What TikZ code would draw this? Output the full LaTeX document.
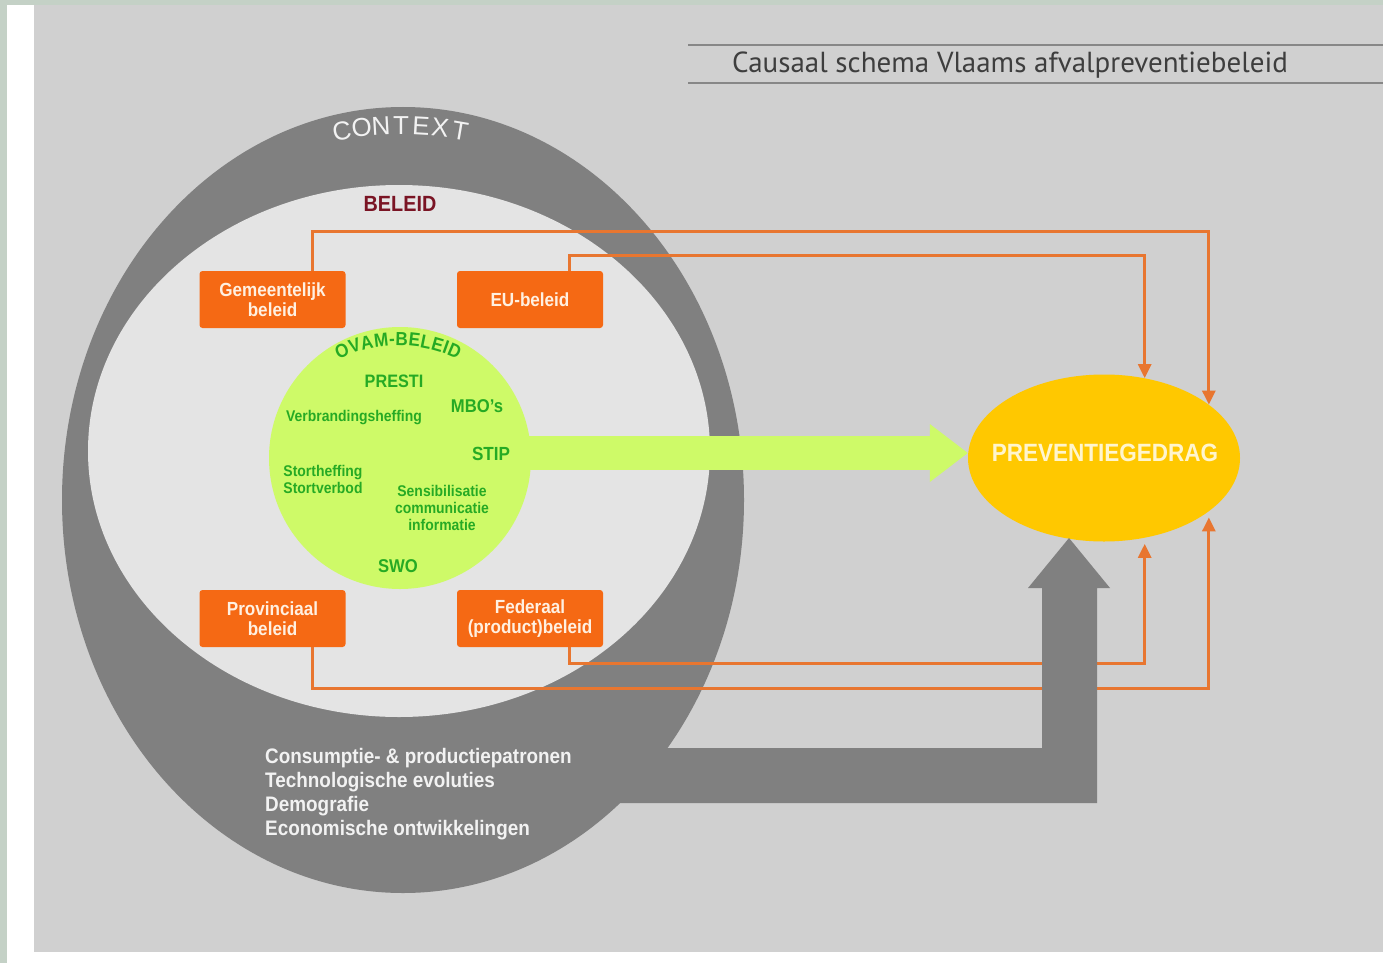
\documentclass[tikz,border=0pt]{standalone}
\usepackage{fontspec}
\usetikzlibrary{shapes.geometric,arrows.meta}
\newfontfamily\cnd[FakeStretch=0.9]{Liberation Sans}
\newfontfamily\ttlf{PT Sans}
\newfontfamily\ctxf{Liberation Sans}
\definecolor{framegreen}{RGB}{196,209,198}
\definecolor{panel}{RGB}{208,208,208}
\definecolor{ctxgrey}{RGB}{128,128,128}
\definecolor{innergrey}{RGB}{228,228,228}
\definecolor{limegr}{RGB}{206,250,104}
\definecolor{gtxt}{RGB}{38,170,36}
\definecolor{boxorange}{RGB}{245,105,20}
\definecolor{boxtext}{RGB}{255,240,225}
\definecolor{lineorange}{RGB}{232,118,48}
\definecolor{peyellow}{RGB}{255,200,0}
\definecolor{petext}{RGB}{255,245,205}
\definecolor{titlegrey}{RGB}{62,62,62}
\definecolor{titleline}{RGB}{135,135,135}
\definecolor{darkred}{RGB}{122,20,36}
\definecolor{ctxtext}{RGB}{242,242,242}
\begin{document}
\begin{tikzpicture}[x=1pt,y=-1pt,
  obox/.style={rectangle, rounded corners=3pt, fill=boxorange, minimum width=146pt, minimum height=57pt, inner sep=0pt, text=boxtext, align=center, font=\cnd\bfseries\fontsize{19}{20.5}\selectfont},
  oline/.style={draw=lineorange, line width=3pt, -{Triangle[length=14pt,width=13pt]}},
  gtext/.style={text=gtxt, inner sep=0pt, align=center},
  letter/.style={inner sep=0pt, text height=0.72em, text depth=0pt},
]
\useasboundingbox (0,0) rectangle (1383,963);
% frame and panel
\fill[framegreen] (0,0) rectangle (1383,963);
\fill[white] (7,5) rectangle (1383,963);
\fill[panel] (34,5) rectangle (1383,952);
% title
\draw[titleline, line width=1.5pt] (688,45) -- (1383,45) (688,83) -- (1383,83);
\node[anchor=west, text=titlegrey, font=\ttlf\fontsize{29}{32}\selectfont, inner sep=0pt] (title) at (732,65) {Causaal schema Vlaams afvalpreventiebeleid};
% context and beleid shapes
\node[ellipse, fill=ctxgrey, inner sep=0pt, minimum width=682pt, minimum height=786pt] (ctx) at (403,500) {};
\node[ellipse, fill=innergrey, inner sep=0pt, minimum width=622pt, minimum height=532pt] (bel) at (399,451) {};
% preventiegedrag
\node[ellipse, fill=peyellow, inner sep=0pt, minimum width=272pt, minimum height=167pt] (pe) at (1104,458) {};
% OVAM circle and green arrow
\node[circle, fill=limegr, inner sep=0pt, minimum size=262pt] (ovam) at (400,458) {};
\draw[limegr, line width=34pt, -{Triangle[length=38pt,width=58pt,line width=0pt]}] ([yshift=5pt,xshift=-6pt]ovam.east) -- ([yshift=5pt]pe.west);
% orange boxes
\node[obox] (gem) at (272.5,299.5) {Gemeentelijk\\beleid};
\node[obox] (eu) at (530,299.5) {EU-beleid};
\node[obox] (prov) at (272.5,618.5) {Provinciaal\\beleid};
\node[obox] (fed) at (530,618.5) {Federaal\\(product)beleid};
% orange connectors
\draw[oline] ([xshift=39.5pt]gem.north) -- ++(0,-39) -| (pe.27);
\draw[oline] ([xshift=39pt]eu.north) -- ++(0,-15) -| (pe.63);
\draw[oline, shorten >=6pt] ([xshift=39pt]fed.south) -- ++(0,16) -| (pe.-63);
\draw[oline, shorten >=6pt] ([xshift=39.5pt]prov.south) -- ++(0,41) -| (pe.-27);
% grey context arrow
\fill[ctxgrey] (600,748) -- (1042,748) -- (1042,588) -- (1028,588) -- (1069,538) -- (1110,588) -- (1097,588) -- (1097,803) -- (600,803) -- cycle;
% texts
\node[text=petext, inner sep=0pt, font=\cnd\bfseries\fontsize{25}{28}\selectfont] (pet) at (1105,453) {PREVENTIEGEDRAG};
\node[text=darkred, inner sep=0pt, font=\cnd\bfseries\fontsize{22}{24}\selectfont] (beleidt) at (400,204) {BELEID};
\foreach \c/\a [count=\i] in {C/99.8,O/96.5,N/93.3,T/90,E/86.7,X/83.5,T/80.2}
  \node[letter, text=ctxtext, font=\ctxf\fontsize{26}{28}\selectfont, rotate=\a-90] (ctxl\i) at ({401+342*cos(\a)},{473-342*sin(\a)}) {\c};
\foreach \c/\a [count=\i] in {O/-23.1,V/-17.7,A/-12.6,M/-6.8,-/-2.4,B/1.5,E/6.6,L/11.3,E/16.1,I/19.6,D/23.3}
  \node[letter, text=gtxt, font=\cnd\bfseries\fontsize{19}{20}\selectfont, rotate=-\a] (ovl\i) at ({398+140*cos(90-\a)},{482-140*sin(90-\a)}) {\c};
\node[gtext, font=\cnd\bfseries\fontsize{18}{20}\selectfont] (presti) at (394,381) {PRESTI};
\node[gtext, font=\cnd\bfseries\fontsize{18.5}{20}\selectfont] (mbo) at (477,406) {MBO’s};
\node[gtext, font=\cnd\bfseries\fontsize{15.5}{17}\selectfont] (verbr) at (354,418) {Verbrandingsheffing};
\node[gtext, font=\cnd\bfseries\fontsize{19}{20}\selectfont] (stip) at (491,454) {STIP};
\node[gtext, align=left, font=\cnd\bfseries\fontsize{15.5}{17}\selectfont] (stort) at (323,479) {Stortheffing\\Stortverbod};
\node[gtext, font=\cnd\bfseries\fontsize{15.5}{17}\selectfont] (sens) at (442,508) {Sensibilisatie\\communicatie\\informatie};
\node[gtext, font=\cnd\bfseries\fontsize{18.5}{20}\selectfont] (swo) at (398,566) {SWO};
\node[anchor=west, align=left, inner sep=0pt, text=ctxtext, font=\cnd\bfseries\fontsize{21}{24}\selectfont] (factors) at (265,794) {Consumptie- \& productiepatronen\\Technologische evoluties\\Demografie\\Economische ontwikkelingen};
\end{tikzpicture}
\end{document}
